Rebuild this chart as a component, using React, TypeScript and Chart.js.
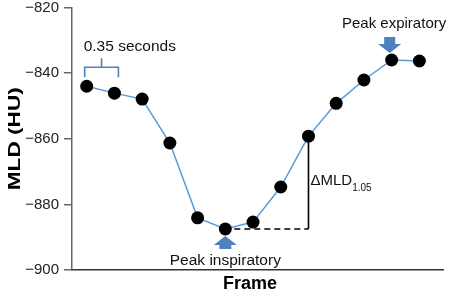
import React, { useEffect, useRef } from 'react';
import { Chart, registerables } from 'chart.js';

Chart.register(...registerables);

const frames = [1, 2, 3, 4, 5, 6, 7, 8, 9, 10, 11, 12, 13];
const mld = [-844, -846.1, -847.9, -861.3, -884.1, -887.5, -885.4, -874.7, -859.2, -849.2, -842.1, -836.0, -836.3];
const yTicks = [-900, -880, -860, -840, -820];
const yTitle = 'MLD (HU)';
const xTitle = 'Frame';
const intervalLabel = '0.35 seconds';
const expLabel = 'Peak expiratory';
const inspLabel = 'Peak inspiratory';
const deltaLabel = '\u0394MLD';
const deltaSub = '1.05';
const inspIndex = 5;
const expIndex = 11;
const deltaIndex = 8;

const FONT = '"Liberation Sans", Arial, sans-serif';
const BLUE = '#4f81bd';
const PLOT_TOP = 7.5;

const fixTop = {
  id: 'fixTop',
  afterLayout(chart: any) {
    const ys = chart.scales.y;
    chart.chartArea.top = PLOT_TOP;
    chart.chartArea.height = chart.chartArea.bottom - PLOT_TOP;
    ys.top = PLOT_TOP;
    ys.height = ys.bottom - PLOT_TOP;
    ys.configure();
  },
};

const annotations = {
  id: 'annotations',
  afterDraw(chart: any) {
    const ctx = chart.ctx as CanvasRenderingContext2D;
    const xs = chart.scales.x;
    const ys = chart.scales.y;
    const px = (i: number) => xs.getPixelForValue(frames[i]);
    const py = (i: number) => ys.getPixelForValue(mld[i]);
    ctx.save();

    // bracket over first interval
    const bl = px(0) - 2;
    const br = px(1) + 4;
    const bb = py(0) - 9;
    const bt = bb - 10;
    const bc = (bl + br) / 2;
    ctx.strokeStyle = BLUE;
    ctx.lineWidth = 1.6;
    ctx.beginPath();
    ctx.moveTo(bl, bb);
    ctx.lineTo(bl, bt);
    ctx.lineTo(br, bt);
    ctx.lineTo(br, bb);
    ctx.moveTo(bc, bt);
    ctx.lineTo(bc, bt - 9);
    ctx.stroke();

    ctx.fillStyle = '#111';
    ctx.font = `15.5px ${FONT}`;
    ctx.textAlign = 'left';
    ctx.textBaseline = 'alphabetic';
    ctx.fillText(intervalLabel, bl - 1, 51);

    // peak expiratory arrow (down)
    const ex = px(expIndex) - 2;
    const etip = py(expIndex) - 7;
    ctx.fillStyle = BLUE;
    ctx.beginPath();
    ctx.moveTo(ex - 5.5, etip - 16);
    ctx.lineTo(ex + 5.5, etip - 16);
    ctx.lineTo(ex + 5.5, etip - 9);
    ctx.lineTo(ex + 11.5, etip - 9);
    ctx.lineTo(ex, etip);
    ctx.lineTo(ex - 11.5, etip - 9);
    ctx.lineTo(ex - 5.5, etip - 9);
    ctx.closePath();
    ctx.fill();
    ctx.fillStyle = '#111';
    ctx.font = `15px ${FONT}`;
    ctx.fillText(expLabel, 342, 28);

    // peak inspiratory arrow (up)
    const ix = px(inspIndex);
    const itip = py(inspIndex) + 7;
    ctx.fillStyle = BLUE;
    ctx.beginPath();
    ctx.moveTo(ix, itip);
    ctx.lineTo(ix + 11.5, itip + 9);
    ctx.lineTo(ix + 6, itip + 9);
    ctx.lineTo(ix + 6, itip + 13);
    ctx.lineTo(ix - 6, itip + 13);
    ctx.lineTo(ix - 6, itip + 9);
    ctx.lineTo(ix - 11.5, itip + 9);
    ctx.closePath();
    ctx.fill();
    ctx.fillStyle = '#111';
    ctx.font = `15.5px ${FONT}`;
    ctx.textAlign = 'center';
    ctx.fillText(inspLabel, ix, 265);

    // delta lines
    const dx = px(deltaIndex);
    const dTop = py(deltaIndex);
    const dBot = py(inspIndex);
    ctx.strokeStyle = '#000';
    ctx.lineWidth = 1.6;
    ctx.setLineDash([6, 4]);
    ctx.beginPath();
    ctx.moveTo(ix + 9, dBot);
    ctx.lineTo(dx, dBot);
    ctx.stroke();
    ctx.setLineDash([]);
    ctx.beginPath();
    ctx.moveTo(dx, dTop);
    ctx.lineTo(dx, dBot);
    ctx.stroke();

    ctx.fillStyle = '#111';
    ctx.textAlign = 'left';
    ctx.font = `15px ${FONT}`;
    ctx.fillText(deltaLabel, dx + 2, 185);
    const w = ctx.measureText(deltaLabel).width;
    ctx.font = `10px ${FONT}`;
    ctx.fillText(deltaSub, dx + 2 + w, 191);

    // axis titles
    ctx.fillStyle = '#000';
    ctx.font = `bold 18px ${FONT}`;
    ctx.textAlign = 'center';
    ctx.textBaseline = 'middle';
    ctx.fillText(xTitle, 250, 284);

    ctx.translate(15, (chart.chartArea.top + chart.chartArea.bottom) / 2);
    ctx.rotate(-Math.PI / 2);
    ctx.scale(1.33, 1);
    ctx.font = `bold 17px ${FONT}`;
    ctx.fillText(yTitle, 0, 0);
    ctx.restore();
  },
};

export default function App() {
  const ref = useRef<HTMLCanvasElement | null>(null);
  useEffect(() => {
    document.body.style.margin = '0';
    const canvas = ref.current!;
    const chart = new Chart(canvas, {
      type: 'line',
      data: {
        datasets: [
          {
            data: frames.map((f, i) => ({ x: f, y: mld[i] })),
            borderColor: '#5b9bd5',
            borderWidth: 1.5,
            pointRadius: 6.5,
            pointBackgroundColor: '#000',
            pointBorderColor: '#000',
            pointBorderWidth: 0,
            tension: 0,
          },
        ],
      },
      options: {
        animation: false,
        responsive: false,
        devicePixelRatio: 1,
        layout: { padding: { top: 0, right: 2, left: 0, bottom: 0 } },
        plugins: { legend: { display: false }, tooltip: { enabled: false } },
        scales: {
          x: {
            type: 'linear',
            min: 0.47,
            max: 13.87,
            ticks: { display: false },
            grid: { display: true, drawOnChartArea: false, drawTicks: false, tickLength: 0 },
            border: { color: '#333', width: 1.5 },
            afterFit: (s: any) => {
              s.height = 24;
            },
          },
          y: {
            type: 'linear',
            min: yTicks[0],
            max: yTicks[yTicks.length - 1],
            afterBuildTicks: (s: any) => {
              s.ticks = yTicks.map((v) => ({ value: v }));
            },
            ticks: {
              font: { family: FONT, size: 15 },
              color: '#222',
              padding: 5,
              callback: (v: any) => '\u2212' + Math.abs(Number(v)),
            },
            grid: { display: true, drawOnChartArea: false, drawTicks: true, tickLength: 8, color: '#666', lineWidth: 1.5 },
            border: { color: '#666', width: 1.5 },
            afterFit: (s: any) => {
              s.width = 72;
            },
          },
        },
      },
      plugins: [fixTop, annotations],
    });
    return () => chart.destroy();
  }, []);
  return (
    <div style={{ position: 'absolute', left: 0, top: 0, width: 450, height: 294 }}>
      <canvas ref={ref} width={450} height={294} />
    </div>
  );
}
